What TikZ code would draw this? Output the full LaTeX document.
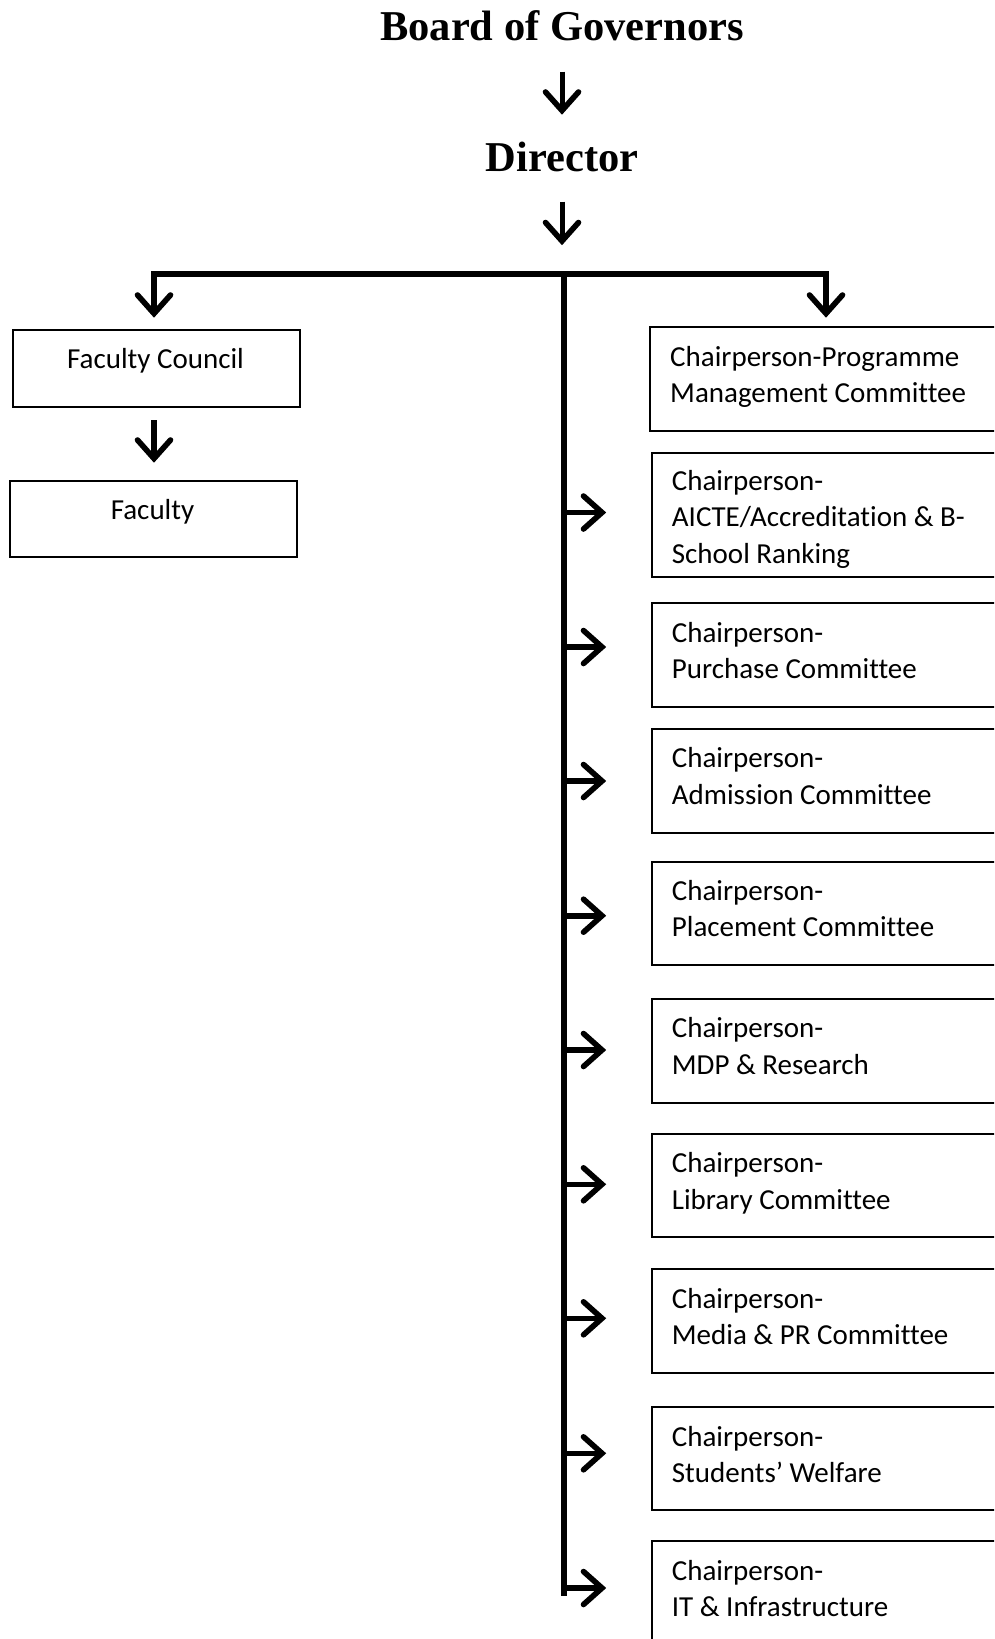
\documentclass[tikz,border=0pt]{standalone}
\usepackage{fontspec}
\setmainfont{Carlito}[Ligatures={NoCommon}]
\newfontfamily\timesf{Liberation Serif}
\begin{document}
\begin{tikzpicture}[x=1pt,y=-1pt,
  titletext/.style={font=\timesf\bfseries\fontsize{42.5}{50}\selectfont, inner sep=0pt, anchor=base},
  boxshape/.style={draw, line width=1.8pt, anchor=north west, inner sep=0pt, minimum width=420pt},
  lbl/.style={font=\fontsize{29}{36.3}\selectfont, inner sep=0pt, anchor=base west, align=left},
  clbl/.style={font=\fontsize{29}{36.3}\selectfont, inner sep=0pt, anchor=base},
  arr/.style={line width=5.6pt},
  headline/.style={line width=5.6pt, line join=miter, line cap=round},
  toparr/.style={line width=5pt},
  barline/.style={line width=6pt}]
\newcommand\headdown[1]{\draw[headline] (#1) ++(-16.5,-18.5) -- (#1) -- ++(16.5,-18.5);}
\newcommand\headright[1]{\draw[headline] (#1) ++(-18.5,-16.5) -- (#1) -- ++(-18.5,16.5);}
\fill[white] (0,0) rectangle (994,1639);
\clip (0,0) rectangle (994,1639);

% titles
\node[titletext] (bog) at (562,40.7) {Board of Governors};
\node[titletext] (dir) at (562,171.7) {Director};
\coordinate (a1s) at (562,71.7);  \coordinate (a1e) at (562,110.5);
\coordinate (a2s) at (562,201.7); \coordinate (a2e) at (562,241);
\draw[toparr] (a1s) -- (a1e); \headdown{a1e}
\draw[toparr] (a2s) -- (a2e); \headdown{a2e}

% bar and trunk
\coordinate (barL) at (151,274);
\coordinate (barR) at (829,274);
\coordinate (junc) at (564,271);
\coordinate (trunkEnd) at (564,1596);
\draw[barline] (barL) -- (barR);
\draw[barline] (junc) -- (trunkEnd);

% left branch
\node[boxshape, minimum width=287pt, minimum height=76.7pt] (fc) at (12,329.3) {};
\node[clbl] (fct) at (155.5,368.3) {Faculty Council};
\node[boxshape, minimum width=287pt, minimum height=76pt] (fac) at (9,480) {};
\node[clbl] (fact) at (152.5,519.3) {Faculty};
\coordinate (dl) at (154,271);   \coordinate (dle) at (154,313.5);
\draw[arr] (dl) -- (dle); \headdown{dle}
\coordinate (fa) at (154,420);     \coordinate (fae) at (154,458.5);
\draw[arr] (fa) -- (fae); \headdown{fae}

% right drop
\coordinate (dr) at (826,271); \coordinate (dre) at (826,313.5);
\draw[arr] (dr) -- (dre); \headdown{dre}

% right boxes
\node[boxshape, minimum height=104pt] (b1) at (649,326) {};
\node[lbl] (t1) at (670,366) {\begin{tabular}[t]{@{}l@{}}Chairperson-Programme\\Management Committee\end{tabular}};

\node[boxshape, minimum height=123.4pt] (b2) at (651,452.3) {};
\node[lbl] (t2) at (671.7,490.5) {\begin{tabular}[t]{@{}l@{}}Chairperson-\\AICTE/Accreditation \& B-\\School Ranking\end{tabular}};

\node[boxshape, minimum height=103.7pt] (b3) at (651,602.3) {};
\node[lbl] (t3) at (671.7,642.5) {\begin{tabular}[t]{@{}l@{}}Chairperson-\\Purchase Committee\end{tabular}};

\node[boxshape, minimum height=104.6pt] (b4) at (651,727.7) {};
\node[lbl] (t4) at (671.7,767.7) {\begin{tabular}[t]{@{}l@{}}Chairperson-\\Admission Committee\end{tabular}};

\node[boxshape, minimum height=103.3pt] (b5) at (651,860.7) {};
\node[lbl] (t5) at (671.7,900.5) {\begin{tabular}[t]{@{}l@{}}Chairperson-\\Placement Committee\end{tabular}};

\node[boxshape, minimum height=104pt] (b6) at (651,997.7) {};
\node[lbl] (t6) at (671.7,1037.7) {\begin{tabular}[t]{@{}l@{}}Chairperson-\\MDP \& Research\end{tabular}};

\node[boxshape, minimum height=103pt] (b7) at (651,1132.7) {};
\node[lbl] (t7) at (671.7,1172.7) {\begin{tabular}[t]{@{}l@{}}Chairperson-\\Library Committee\end{tabular}};

\node[boxshape, minimum height=103.4pt] (b8) at (651,1268.3) {};
\node[lbl] (t8) at (671.7,1308.3) {\begin{tabular}[t]{@{}l@{}}Chairperson-\\Media \& PR Committee\end{tabular}};

\node[boxshape, minimum height=103.3pt] (b9) at (651,1406) {};
\node[lbl] (t9) at (671.7,1446.5) {\begin{tabular}[t]{@{}l@{}}Chairperson-\\Students’ Welfare\end{tabular}};

\node[boxshape, minimum height=140pt] (b10) at (651,1540) {};
\node[lbl] (t10) at (671.7,1580) {\begin{tabular}[t]{@{}l@{}}Chairperson-\\IT \& Infrastructure\end{tabular}};

% branch arrows
\foreach \n/\yy in {2/512.5,3/647,4/781,5/915.7,6/1050,7/1184.3,8/1318.3,9/1453.3,10/1588}{
  \coordinate (h\n s) at (561,\yy);
  \coordinate (h\n e) at (602,\yy);
  \draw[arr] (h\n s) -- (h\n e);
  \headright{h\n e}
}
\end{tikzpicture}
\end{document}
